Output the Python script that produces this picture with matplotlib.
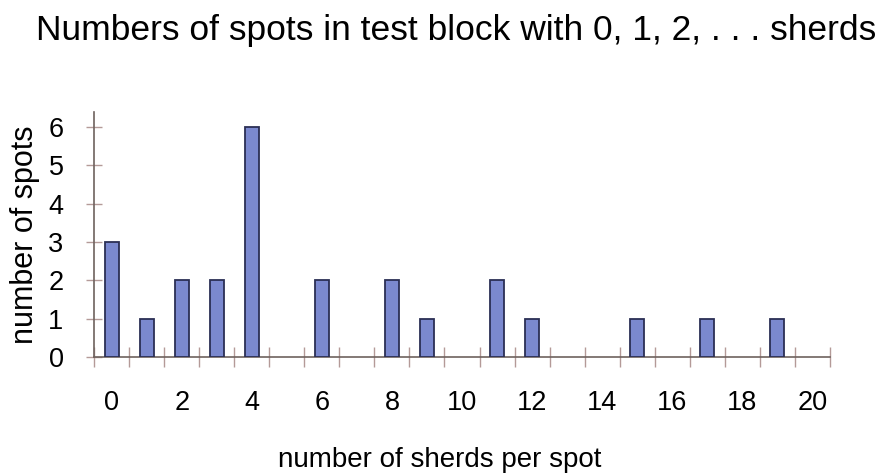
import matplotlib.pyplot as plt
from matplotlib.ticker import FixedLocator

plt.rcParams['font.family'] = ['Liberation Sans', 'DejaVu Sans']

# sherds per spot (categories) and number of spots
sherds = list(range(21))
spots = [3, 1, 2, 2, 6, 0, 2, 0, 2, 1, 0, 2, 1, 0, 0, 1, 0, 1, 0, 1, 0]
x_labels = [str(v) for v in range(0, 21, 2)]

bar_color = '#7b89cf'
edge_color = '#2b2f55'
axis_color = '#6e625e'
tick_color = '#b49a98'

fig = plt.figure(figsize=(8.8, 4.74), dpi=100)
ax = fig.add_axes([0.107, 0.247, 0.836, 0.517])

# empty categories get no bar outline
xs = [s for s, n in zip(sherds, spots) if n > 0]
hs = [n for n in spots if n > 0]
ax.bar(xs, hs, width=0.4, color=bar_color, edgecolor=edge_color,
       linewidth=1.3, zorder=3)

ax.set_xlim(-0.5, 20.5)
ax.set_ylim(0, 6.4)

# category axis: labels every 2, tick marks between categories
ax.xaxis.set_major_locator(FixedLocator(range(0, 21, 2)))
ax.set_xticklabels(x_labels)
ax.xaxis.set_minor_locator(FixedLocator([i - 0.5 for i in range(22)]))
ax.tick_params(axis='x', which='major', length=0, pad=24, labelsize=19.5)
ax.tick_params(axis='x', which='minor', direction='inout', length=14,
               width=1, color=tick_color)

ax.set_yticks(range(7))
ax.tick_params(axis='y', direction='inout', length=12, width=1,
               color=tick_color, pad=16, labelsize=19.5)

for side in ['top', 'right']:
    ax.spines[side].set_visible(False)
for side in ['left', 'bottom']:
    ax.spines[side].set_color(axis_color)
    ax.spines[side].set_linewidth(1.2)

ax.set_ylabel('number of spots', fontsize=22, labelpad=6)
fig.text(0.5, 0.03, 'number of sherds per spot', ha='center', va='center',
         fontsize=20)
fig.text(0.518, 0.935, 'Numbers of spots in test block with 0, 1, 2, . . . sherds',
         ha='center', va='center', fontsize=25.5)

fig.savefig('out.png', dpi=100)
